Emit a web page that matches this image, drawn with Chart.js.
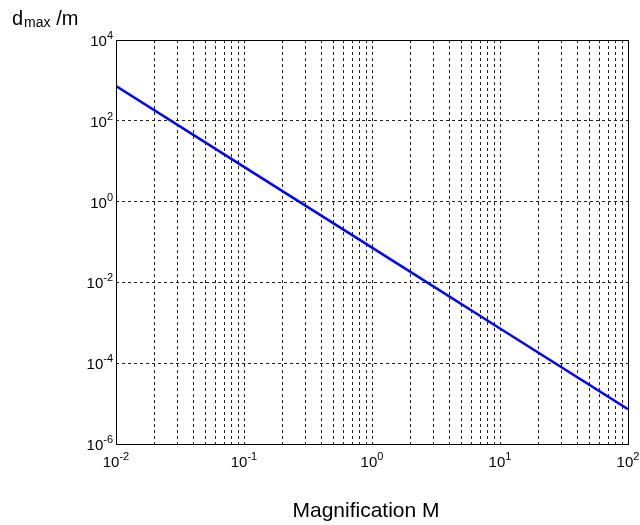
<!DOCTYPE html>
<html>
<head>
<meta charset="utf-8">
<script src="https://cdn.jsdelivr.net/npm/chart.js@4"></script>
<style>
  html, body { margin: 0; padding: 0; background: #fff; }
  canvas { display: block; }
</style>
</head>
<body>
<canvas id="chart" width="640" height="525"></canvas>
<script>
// maximum distance vs magnification (log-log)
const magnification = [0.01, 0.1, 1, 10, 100];
const dMax = [725, 7.25, 0.0725, 7.25e-4, 7.25e-6];

// decade exponents used for the axis labels
const xExponents = [-2, -1, 0, 1, 2];
const yExponents = [-6, -4, -2, 0, 2, 4];

const FONT = 'Arial, "Liberation Sans", sans-serif';

// vertical grid at every 1..9 multiple inside each decade
const xGrid = [];
for (let i = 0; i < xExponents.length; i++) {
  const base = 10 ** xExponents[i];
  if (i === xExponents.length - 1) { xGrid.push(base); break; }
  for (let m = 1; m <= 9; m++) xGrid.push(m * base);
}
const yGrid = yExponents.map(e => 10 ** e);

function drawPower(ctx, exp, x, y, align) {
  ctx.font = '15px ' + FONT;
  const baseW = ctx.measureText('10').width;
  ctx.font = '11px ' + FONT;
  const expStr = exp < 0 ? '-' + Math.abs(exp) : String(exp);
  const expW = ctx.measureText(expStr).width;
  const total = baseW + expW;
  let left = align === 'right' ? x - total : x - total / 2;
  ctx.textAlign = 'left';
  ctx.textBaseline = 'alphabetic';
  ctx.font = '15px ' + FONT;
  ctx.fillText('10', left, y);
  ctx.font = '11px ' + FONT;
  ctx.fillText(expStr, left + baseW, y - 7);
}

const frame = {
  id: 'frame',
  afterDraw(chart) {
    const ctx = chart.ctx;
    const a = chart.chartArea;
    const xs = chart.scales.x;
    const ys = chart.scales.y;
    ctx.save();
    ctx.strokeStyle = '#000';
    ctx.lineWidth = 1;
    ctx.setLineDash([]);
    ctx.strokeRect(Math.round(a.left) + 0.5, Math.round(a.top) + 0.5,
      Math.round(a.right - a.left), Math.round(a.bottom - a.top));

    ctx.fillStyle = '#000';
    xExponents.forEach(e => {
      drawPower(ctx, e, xs.getPixelForValue(10 ** e), a.bottom + 23, 'center');
    });
    yExponents.forEach(e => {
      drawPower(ctx, e, a.left - 3, ys.getPixelForValue(10 ** e) + 6, 'right');
    });

    // axis titles
    ctx.textAlign = 'center';
    ctx.font = '21px ' + FONT;
    ctx.fillText('Magnification M', 366, 517);

    ctx.textAlign = 'left';
    ctx.font = '20px ' + FONT;
    ctx.fillText('d', 12, 25);
    const dW = ctx.measureText('d').width;
    ctx.font = '14px ' + FONT;
    ctx.fillText('max', 12 + dW + 1, 27);
    const mW = ctx.measureText('max').width;
    ctx.font = '20px ' + FONT;
    ctx.fillText(' /m', 12 + dW + 1 + mW, 25);
    ctx.restore();
  }
};

function gridColor(min, max) {
  return c => {
    const v = c.tick ? c.tick.value : null;
    if (v === null || Math.abs(Math.log10(v) - Math.log10(min)) < 1e-6 ||
        Math.abs(Math.log10(v) - Math.log10(max)) < 1e-6) return 'rgba(0,0,0,0)';
    return '#222';
  };
}

new Chart(document.getElementById('chart'), {
  type: 'line',
  data: {
    datasets: [{
      data: magnification.map((m, i) => ({ x: m, y: dMax[i] })),
      borderColor: '#0000ff',
      borderWidth: 2.5,
      pointRadius: 0,
      tension: 0,
      fill: false
    }]
  },
  options: {
    responsive: false,
    animation: false,
    layout: { padding: { left: 116, top: 40, right: 12, bottom: 81 } },
    plugins: { legend: { display: false }, tooltip: { enabled: false } },
    scales: {
      x: {
        type: 'logarithmic',
        min: 0.01,
        max: 100,
        afterBuildTicks: s => { s.ticks = xGrid.map(v => ({ value: v })); },
        afterFit: s => { s.height = 0; },
        ticks: { display: false },
        grid: { color: gridColor(0.01, 100), lineWidth: 1, drawTicks: false },
        border: { display: false, dash: [3, 3] }
      },
      y: {
        type: 'logarithmic',
        min: 1e-6,
        max: 1e4,
        afterBuildTicks: s => { s.ticks = yGrid.map(v => ({ value: v })); },
        afterFit: s => { s.width = 0; },
        ticks: { display: false },
        grid: { color: gridColor(1e-6, 1e4), lineWidth: 1, drawTicks: false },
        border: { display: false, dash: [3, 3] }
      }
    }
  },
  plugins: [frame]
});
</script>
</body>
</html>
